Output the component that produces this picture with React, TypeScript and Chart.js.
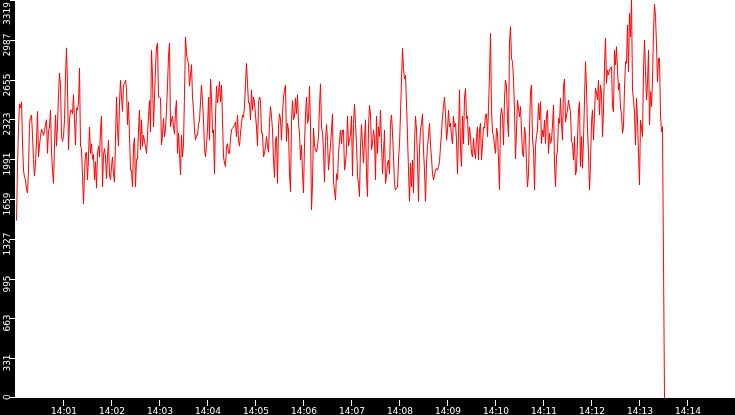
import { useEffect, useRef } from "react"
import { Chart, registerables } from "chart.js"

Chart.register(...registerables)

// seconds after 14:00:00 of the first sample, and spacing between samples
const SAMPLE_START = 1.875
const SAMPLE_STEP = 1.25

// readings, 14:00:01 .. 14:13:31
const VALUES_1 = [
  1480, 1930, 2250, 2452, 2420, 2470, 2140, 1900, 1840, 1820, 1740, 1710, 1900, 2290,
  2340, 2360, 2190, 1990, 1850, 1960, 2140, 2390, 2010, 2110, 2180, 2240, 2220, 2190,
  2230, 2280, 2320, 2040, 2230, 2260, 2400, 2050, 1900, 1790, 2110, 2360, 2100, 2270,
  2530, 2710, 2600, 2190, 2140, 2180, 2320, 2680, 2920, 2610, 2070, 2320, 2400, 2400,
  2370, 2530, 2320, 2110, 2420, 2400, 2470, 2750, 2100, 2080, 1850, 1620, 1870, 2040,
  2050, 1820, 2010, 2260, 2040, 2120, 1990, 2030, 1820, 1970, 1750, 2040, 2100, 2010,
  2230, 2350, 1760, 2030, 2080, 2010, 1830, 2010, 2150, 1860, 1820, 1930, 2010, 1870,
  1800, 2150, 2510, 2240, 2100, 2460, 2650, 2510, 2390, 2610, 2620, 2650,
]
const VALUES_2 = [
  2580, 2280, 2470, 2190, 1900, 1900, 1760, 2100, 2170, 1760, 1990, 1990, 2235, 2400,
  2070, 2320, 2100, 2190, 2140, 2100, 2040, 2190, 2350, 2480, 2220, 2900, 2680, 2260,
  2510, 2750, 2930, 2960, 2510, 2510, 2500, 2110, 2190, 2330, 2180, 2250, 2400, 2600,
  2850, 2960, 2260, 2320, 2350, 2260, 2200, 2400, 2480, 2040, 2210, 2040, 1860, 2190,
  2010, 2120, 2530, 3010, 2870, 2820, 2790, 2600, 2690, 2780, 2510, 2400, 2235, 2150,
  2190, 2190, 2280, 2320, 2470, 2610, 2480, 2320, 2080, 2010, 2120, 2235, 2510, 2150,
  2660, 2510, 2210, 2235, 1870, 2350, 2600, 2460, 2540, 2640, 2470, 2610, 2320, 2010,
  1960, 1930, 2100, 2120, 2040, 2040, 2160, 2235, 2250, 2260, 2280, 2300,
]
const VALUES_3 = [
  2180, 2360, 2150, 2100, 2210, 2290, 2360, 2340, 2430, 2620, 2790, 2620, 2460, 2460,
  2320, 2570, 2400, 2510, 2460, 2360, 2260, 2100, 2460, 2510, 2480, 2210, 2210, 2010,
  2040, 2100, 2180, 2100, 2050, 2300, 2430, 2350, 2235, 1985, 1840, 2150, 2180, 1790,
  2260, 2370, 2330, 2150, 2370, 2510, 2570, 2610, 2140, 2290, 2235, 1870, 1720, 2320,
  2480, 2320, 2350, 2500, 2370, 2530, 2290, 2210, 1985, 2110, 1870, 1710, 2120, 2360,
  2510, 2290, 2330, 2600, 2260, 1570, 1790, 2250, 2110, 2070, 2050, 2100, 2180, 2440,
  2620, 2260, 2210, 2050, 1800, 2140, 2280, 2150, 1900, 2010, 2100, 2235, 2370, 1800,
  1735, 1650, 1870, 1820, 2040, 2140, 2235, 2120, 2235, 2235, 1900, 1960,
]
const VALUES_4 = [
  2070, 2350, 2100, 2150, 2200, 2350, 1850, 2290, 2450, 2290, 2120, 1850, 1790, 1680,
  2100, 2280, 2120, 1960, 2150, 2320, 1850, 1680, 2260, 2440, 2360, 2070, 2120, 2235,
  2165, 1820, 2350, 2040, 2260, 2180, 2400, 2120, 1870, 2040, 2235, 1790, 1850, 1960,
  1985, 1870, 2290, 2360, 2210, 2010, 1780, 1735, 1750, 1760, 1985, 2120, 2370, 2660,
  2916, 2750, 2660, 2690, 2460, 2190, 1900, 1640, 1960, 1760, 1985, 1710, 2120, 2350,
  2235, 1985, 1640, 2070, 2235, 2290, 2370, 2070, 1900, 1640, 1960, 2100, 2180, 2290,
  2100, 2010, 1870, 1820, 1860, 1900, 1915, 1900, 1930, 1970, 2100, 2210, 2350, 2430,
  2510, 2370, 2150, 2235, 2400, 2260, 2290, 2180, 2120, 2350, 2260, 2290,
]
const VALUES_5 = [
  2150, 1870, 2200, 2570, 2070, 1930, 2350, 2120, 2500, 2580, 2330, 2350, 2110, 2260,
  2180, 2040, 2010, 2165, 2050, 1995, 2180, 2260, 1985, 2235, 2290, 1985, 2120, 2260,
  2250, 2360, 2370, 2180, 2415, 2690, 3040, 2400, 2210, 2190, 2100, 2040, 2250, 2210,
  1985, 1735, 2350, 2415, 2350, 2110, 2500, 2650, 2595, 2320, 2180, 2960, 3097, 2830,
  2805, 2660, 2400, 1995, 2235, 2485, 2415, 2345, 2430, 2235, 2040, 2010, 2260, 2190,
  1955, 1760, 1870, 2235, 2555, 2610, 2150, 2080, 1735, 2095, 2190, 2235, 2457, 2318,
  2471, 2123, 2235, 2179, 2318, 2123, 2360, 2402, 2040, 2207, 2123, 2150, 2276, 2443,
  1957, 1762, 2013, 2068, 2332, 2290,
]
const VALUES_6 = [
  2500, 2290, 2150, 2600, 2660, 2300, 2360, 2400, 2485, 2430, 2388, 2138, 2124, 1985,
  2180, 1860, 1900, 2152, 2402, 2471, 1930, 2180, 1916, 2152, 2486, 2805, 2583, 2235,
  2041, 1735, 1957, 2305, 2402, 2152, 2374, 2583, 2541, 2486, 2652, 2360, 2610, 2541,
  2180, 2402, 2763, 2999, 2624, 2735, 2694, 2735, 2750, 2763, 2430, 2388, 2902, 2777,
  2930, 2735, 2569, 2624, 2416, 2374, 2208, 2263, 2583, 2805, 2791, 3111, 2722, 3208,
  3013, 3319, 2569, 2486, 2374, 2110, 2499, 2318, 2041, 1776, 2318, 2249, 2180, 2735,
  2986, 2722, 2486, 2624, 2902, 2277, 2555, 2430, 2652, 3055, 3285, 3180, 2944, 2638,
  2833, 2833, 2360, 2221, 2263, 1137, 0,
]
const VALUES = [...VALUES_1, ...VALUES_2, ...VALUES_3, ...VALUES_4, ...VALUES_5, ...VALUES_6]

const Y_TICK_LABELS = ["0", "331", "663", "995", "1327", "1659", "1991", "2323", "2655", "2987", "3319"]
const X_TICK_LABELS = [
  "14:01", "14:02", "14:03", "14:04", "14:05", "14:06", "14:07",
  "14:08", "14:09", "14:10", "14:11", "14:12", "14:13", "14:14",
]

const FONT = "9px 'DejaVu Sans'"

// black frame, white plot area, and the hand-drawn axis ticks/labels
const framePlugin = {
  id: "frame",
  beforeDraw(chart) {
    const { ctx, chartArea, width, height } = chart
    ctx.save()
    ctx.fillStyle = "#000000"
    ctx.fillRect(0, 0, width, height)
    ctx.fillStyle = "#ffffff"
    ctx.fillRect(chartArea.left, chartArea.top, chartArea.right - chartArea.left, chartArea.bottom - chartArea.top)
    ctx.restore()
  },
  afterDraw(chart) {
    const { ctx, chartArea } = chart
    const xs = chart.scales.x
    const ys = chart.scales.y
    ctx.save()
    ctx.fillStyle = "#ffffff"
    ctx.font = FONT

    // y axis: tick marks + rotated labels
    Y_TICK_LABELS.forEach((label, i) => {
      const value = (ys.max / (Y_TICK_LABELS.length - 1)) * i
      const y = Math.round(ys.getPixelForValue(value))
      ctx.fillRect(chartArea.left - 5, Math.min(y, chartArea.bottom - 1), 5, 1)
      const half = ctx.measureText(label).width / 2
      let yc = y + 5
      yc = Math.max(yc, half + 2)
      yc = Math.min(yc, chartArea.bottom + 2 - half)
      ctx.save()
      ctx.translate(10, yc)
      ctx.rotate(-Math.PI / 2)
      ctx.textAlign = "center"
      ctx.textBaseline = "alphabetic"
      ctx.fillText(label, 0, 0)
      ctx.restore()
    })

    // x axis: tick marks + labels
    ctx.textAlign = "center"
    ctx.textBaseline = "alphabetic"
    X_TICK_LABELS.forEach((label, i) => {
      const x = Math.round(xs.getPixelForValue((i + 1) * 60))
      ctx.fillRect(x, chartArea.bottom + 2, 1, 6)
      ctx.fillText(label, x + 1, chartArea.bottom + 15.5)
    })
    ctx.restore()
  },
}

function TrafficChart() {
  const chartRef = useRef(null)
  const chartInstance = useRef(null)

  useEffect(() => {
    if (chartRef.current) {
      if (chartInstance.current) {
        chartInstance.current.destroy()
      }

      const ctx = chartRef.current.getContext("2d")
      chartInstance.current = new Chart(ctx, {
        type: "line",
        data: {
          datasets: [
            {
              data: VALUES.map((v, i) => ({ x: SAMPLE_START + i * SAMPLE_STEP, y: v })),
              borderColor: "#ff0000",
              borderWidth: 1,
              pointRadius: 0,
              tension: 0,
              fill: false,
            },
          ],
        },
        options: {
          responsive: false,
          animation: false,
          devicePixelRatio: 1,
          layout: {
            padding: { left: 15, right: 0, top: 0, bottom: 17 },
          },
          plugins: {
            legend: { display: false },
            tooltip: { enabled: false },
          },
          scales: {
            x: { type: "linear", min: 0, max: 900, display: false },
            y: { type: "linear", min: 0, max: 3319, display: false },
          },
        },
        plugins: [framePlugin],
      })
    }

    return () => {
      if (chartInstance.current) {
        chartInstance.current.destroy()
      }
    }
  }, [])

  return <canvas ref={chartRef} width={735} height={415} style={{ display: "block" }} />
}

export default function App() {
  return (
    <div style={{ position: "fixed", left: 0, top: 0, width: 735, height: 415, background: "#000" }}>
      <TrafficChart />
    </div>
  )
}
